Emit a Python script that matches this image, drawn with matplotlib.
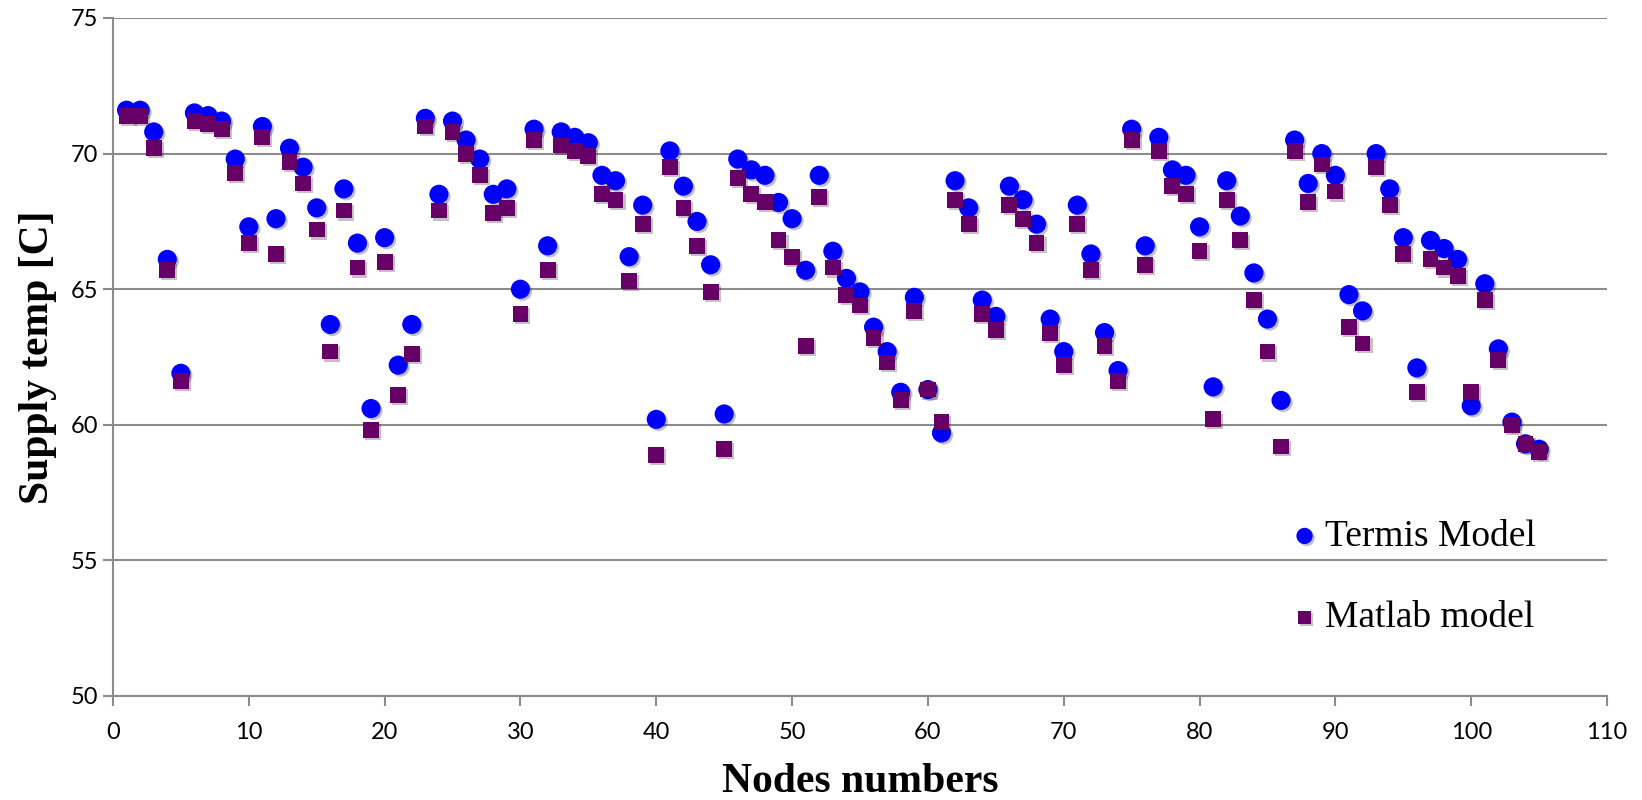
import matplotlib
matplotlib.use("Agg")
import matplotlib.pyplot as plt
import matplotlib.patheffects as pe

# node numbers 1..105
nodes = list(range(1, 106))

termis = [
    71.6, 71.6, 70.8, 66.1, 61.9, 71.5, 71.4, 71.2, 69.8, 67.3,
    71.0, 67.6, 70.2, 69.5, 68.0, 63.7, 68.7, 66.7, 60.6, 66.9,
    62.2, 63.7, 71.3, 68.5, 71.2, 70.5, 69.8, 68.5, 68.7, 65.0,
    70.9, 66.6, 70.8, 70.6, 70.4, 69.2, 69.0, 66.2, 68.1, 60.2,
    70.1, 68.8, 67.5, 65.9, 60.4, 69.8, 69.4, 69.2, 68.2, 67.6,
    65.7, 69.2, 66.4, 65.4, 64.9, 63.6, 62.7, 61.2, 64.7, 61.3,
    59.7, 69.0, 68.0, 64.6, 64.0, 68.8, 68.3, 67.4, 63.9, 62.7,
    68.1, 66.3, 63.4, 62.0, 70.9, 66.6, 70.6, 69.4, 69.2, 67.3,
    61.4, 69.0, 67.7, 65.6, 63.9, 60.9, 70.5, 68.9, 70.0, 69.2,
    64.8, 64.2, 70.0, 68.7, 66.9, 62.1, 66.8, 66.5, 66.1, 60.7,
    65.2, 62.8, 60.1, 59.3, 59.1,
]

matlab = [
    71.4, 71.4, 70.2, 65.7, 61.6, 71.2, 71.1, 70.9, 69.3, 66.7,
    70.6, 66.3, 69.7, 68.9, 67.2, 62.7, 67.9, 65.8, 59.8, 66.0,
    61.1, 62.6, 71.0, 67.9, 70.8, 70.0, 69.2, 67.8, 68.0, 64.1,
    70.5, 65.7, 70.3, 70.1, 69.9, 68.5, 68.3, 65.3, 67.4, 58.9,
    69.5, 68.0, 66.6, 64.9, 59.1, 69.1, 68.5, 68.2, 66.8, 66.2,
    62.9, 68.4, 65.8, 64.8, 64.4, 63.2, 62.3, 60.9, 64.2, 61.3,
    60.1, 68.3, 67.4, 64.1, 63.5, 68.1, 67.6, 66.7, 63.4, 62.2,
    67.4, 65.7, 62.9, 61.6, 70.5, 65.9, 70.1, 68.8, 68.5, 66.4,
    60.2, 68.3, 66.8, 64.6, 62.7, 59.2, 70.1, 68.2, 69.6, 68.6,
    63.6, 63.0, 69.5, 68.1, 66.3, 61.2, 66.1, 65.8, 65.5, 61.2,
    64.6, 62.4, 60.0, 59.3, 59.0,
]

x_ticks = [0, 10, 20, 30, 40, 50, 60, 70, 80, 90, 100, 110]
y_ticks = [50, 55, 60, 65, 70, 75]

fig = plt.figure(figsize=(16.42, 8), dpi=100)
ax = fig.add_axes([0.0688, 0.13, 0.9099, 0.8475])

shadow = [pe.SimplePatchShadow(offset=(1.5, -1.5), alpha=0.25), pe.Normal()]

ax.scatter(nodes, termis, s=190, marker="o", color="#0000FF", linewidths=0,
           label="Termis Model", zorder=3, path_effects=shadow)
ax.scatter(nodes, matlab, s=130, marker="s", color="#660066", linewidths=0,
           label="Matlab model", zorder=4, path_effects=shadow)

ax.set_xlim(0, 110)
ax.set_ylim(50, 75)
ax.set_xticks(x_ticks)
ax.set_yticks(y_ticks)

ax.yaxis.grid(True, color="#8c8c8c", linewidth=1.5)
ax.set_axisbelow(True)
for side in ["top", "right"]:
    ax.spines[side].set_visible(False)
for side in ["left", "bottom"]:
    ax.spines[side].set_color("#8c8c8c")
    ax.spines[side].set_linewidth(1.5)

ax.tick_params(axis="both", colors="#8c8c8c", width=1.5, length=7, direction="out",
               labelcolor="black", labelsize=17)
ax.tick_params(axis="x", pad=12)
for lab in ax.get_xticklabels() + ax.get_yticklabels():
    lab.set_family("Lato")

ax.set_xlabel("Nodes numbers", family="Liberation Serif", fontweight="bold",
              fontsize=30, labelpad=14)
ax.set_ylabel("Supply temp [C]", family="Liberation Serif", fontweight="bold",
              fontsize=30, labelpad=10)

ax.legend(loc="lower right", bbox_to_anchor=(0.975, 0.04), frameon=False,
          prop={"family": "Liberation Serif", "size": 27},
          handletextpad=0.05, labelspacing=1.25, markerscale=0.85,
          handlelength=1.0)

fig.savefig("out.png", dpi=100)
